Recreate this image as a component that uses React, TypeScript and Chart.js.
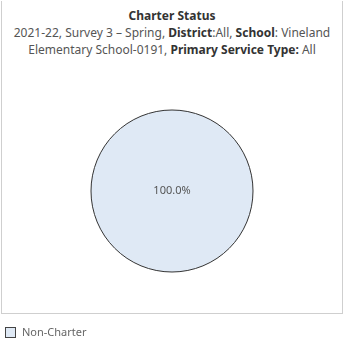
import React, { useEffect, useRef } from "react";
import { Chart, registerables } from "chart.js";

Chart.register(...registerables);

const categories = ["Non-Charter"];
const values = [100.0];
const colors = ["#dfe9f5"];

const FONT = "'Noto Sans', 'Open Sans', sans-serif";

const labelPlugin = {
  id: "sliceLabels",
  afterDatasetsDraw(chart: any) {
    const ctx = chart.ctx;
    const meta = chart.getDatasetMeta(0);
    const total = values.reduce((a, b) => a + b, 0);
    meta.data.forEach((arc: any, i: number) => {
      const p = arc.getProps(["x", "y", "startAngle", "endAngle", "outerRadius"], true);
      const span = p.endAngle - p.startAngle;
      let x = p.x;
      let y = p.y;
      ctx.save();
      ctx.strokeStyle = "#333333";
      ctx.lineWidth = 1;
      ctx.beginPath();
      if (span >= Math.PI * 2 - 1e-6) {
        ctx.arc(p.x, p.y, p.outerRadius, 0, Math.PI * 2);
      } else {
        ctx.moveTo(p.x, p.y);
        ctx.arc(p.x, p.y, p.outerRadius, p.startAngle, p.endAngle);
        ctx.closePath();
        const mid = (p.startAngle + p.endAngle) / 2;
        x = p.x + Math.cos(mid) * p.outerRadius * 0.6;
        y = p.y + Math.sin(mid) * p.outerRadius * 0.6;
      }
      ctx.stroke();
      ctx.fillStyle = "#555555";
      ctx.font = `11px ${FONT}`;
      ctx.textAlign = "center";
      ctx.textBaseline = "middle";
      ctx.fillText(((values[i] / total) * 100).toFixed(1) + "%", x, y);
      ctx.restore();
    });
  },
};

export default function App() {
  const ref = useRef<HTMLCanvasElement | null>(null);
  useEffect(() => {
    if (!ref.current) return;
    const chart = new Chart(ref.current, {
      type: "pie",
      data: {
        labels: categories,
        datasets: [
          {
            data: values,
            backgroundColor: colors,
            borderWidth: 0,
          },
        ],
      },
      options: {
        animation: false,
        responsive: false,
        maintainAspectRatio: false,
        layout: { padding: { left: 91, right: 91, top: 110, bottom: 82 } },
        plugins: {
          legend: { display: false },
          tooltip: { enabled: false },
        },
      },
      plugins: [labelPlugin],
    });
    return () => chart.destroy();
  }, []);

  const bold: React.CSSProperties = { fontWeight: 700, color: "#333" };
  return (
    <div
      style={{
        position: "fixed",
        left: 0,
        top: 0,
        width: 344,
        height: 354,
        background: "#fff",
        fontFamily: FONT,
        overflow: "hidden",
      }}
    >
      <div
        style={{
          position: "absolute",
          left: 1,
          top: 1,
          width: 340,
          height: 312,
          borderLeft: "1px solid #cfcfcf",
          borderRight: "1px solid #cfcfcf",
          borderBottom: "1px solid #cfcfcf",
        }}
      />
      <div
        style={{
          position: "absolute",
          left: 0,
          top: 7,
          width: 344,
          textAlign: "center",
          fontSize: 12,
          lineHeight: "17px",
          color: "#555",
        }}
      >
        <div style={bold}>Charter Status</div>
        <div>
          2021-22, Survey 3 – Spring, <span style={bold}>District</span>:All,{" "}
          <span style={bold}>School</span>: Vineland
        </div>
        <div>
          Elementary School-0191, <span style={bold}>Primary Service Type:</span> All
        </div>
      </div>
      <canvas
        ref={ref}
        width={344}
        height={354}
        style={{ position: "absolute", left: 0, top: 0, width: 344, height: 354 }}
      />
      <div
        style={{
          position: "absolute",
          left: 5,
          top: 327,
          width: 9,
          height: 9,
          background: colors[0],
          border: "1px solid #444",
        }}
      />
      <div
        style={{
          position: "absolute",
          left: 22,
          top: 324,
          fontSize: 11,
          lineHeight: "16px",
          color: "#666",
        }}
      >
        {categories[0]}
      </div>
    </div>
  );
}
